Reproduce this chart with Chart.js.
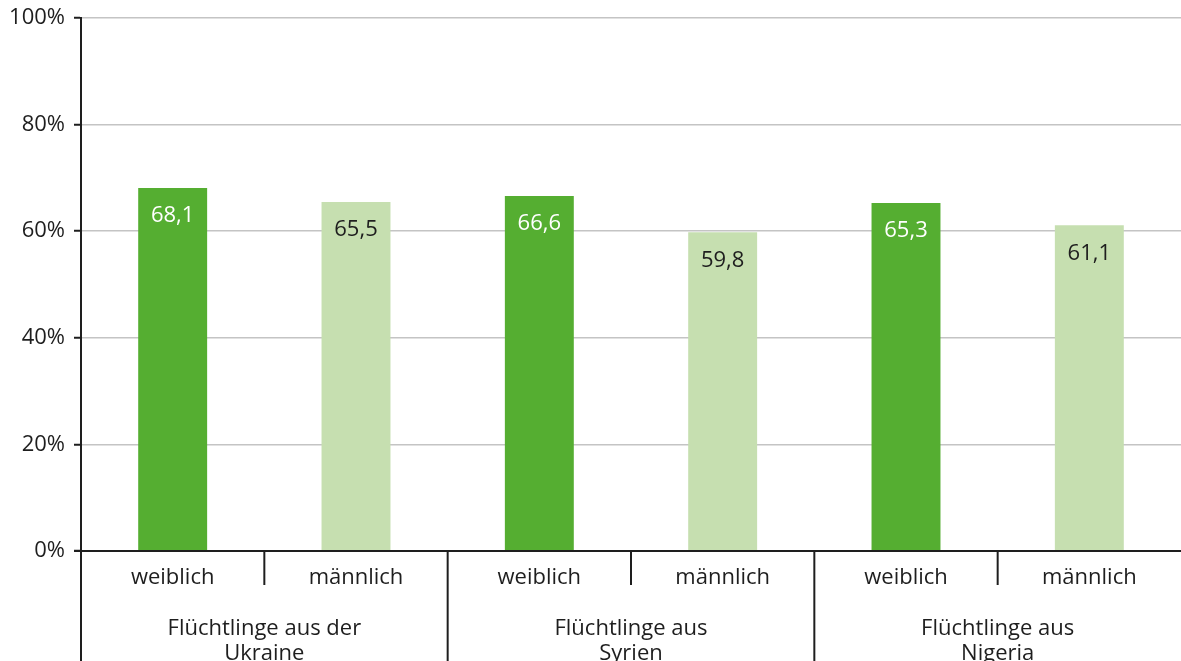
<!DOCTYPE html>
<html lang="de">
<head>
<meta charset="utf-8">
<title>Flüchtlinge nach Herkunft und Geschlecht</title>
<script src="https://cdn.jsdelivr.net/npm/chart.js@4/dist/chart.umd.min.js"></script>
<style>
  html, body { margin: 0; padding: 0; background: #fff; }
  #wrap { width: 1181px; height: 661px; position: relative; }
</style>
</head>
<body>
<div id="wrap"><canvas id="grafik"></canvas></div>
<script>
// Gruppen, Geschlechter und Werte (in %)
var gruppen = [
  ['Flüchtlinge aus der', 'Ukraine'],
  ['Flüchtlinge aus', 'Syrien'],
  ['Flüchtlinge aus', 'Nigeria']
];
var geschlechter = ['weiblich', 'männlich'];
var werteWeiblich = [68.1, 66.6, 65.3];
var werteMaennlich = [65.5, 59.8, 61.1];
var achsenTicks = [0, 20, 40, 60, 80, 100];

var farbeWeiblich = '#55ae31';
var farbeMaennlich = '#c6dfb0';
var schrift = '"Open Sans", "Noto Sans", sans-serif';
var textFarbe = '#1e1e1e';

// flache Liste der Balken: je Gruppe weiblich, männlich
var labels = [], werte = [], farben = [];
gruppen.forEach(function (g, i) {
  labels.push(geschlechter[0]); werte.push(werteWeiblich[i]); farben.push(farbeWeiblich);
  labels.push(geschlechter[1]); werte.push(werteMaennlich[i]); farben.push(farbeMaennlich);
});

function formatWert(v) {
  return v.toFixed(1).replace('.', ',');
}

// Werte in die Balken schreiben und die zweistufige Kategorieachse zeichnen
var beschriftung = {
  id: 'beschriftung',
  afterDatasetsDraw: function (chart) {
    var ctx = chart.ctx;
    var meta = chart.getDatasetMeta(0);
    ctx.save();
    ctx.font = '22px ' + schrift;
    ctx.textAlign = 'center';
    ctx.textBaseline = 'middle';
    meta.data.forEach(function (bar, i) {
      ctx.fillStyle = i % 2 === 0 ? '#ffffff' : textFarbe;
      ctx.fillText(formatWert(werte[i]), bar.x, bar.y + 28);
    });
    ctx.restore();
  },
  afterDraw: function (chart) {
    var ctx = chart.ctx;
    var x = chart.scales.x;
    var area = chart.chartArea;
    var unten = chart.height;
    ctx.save();
    ctx.strokeStyle = textFarbe;
    ctx.lineWidth = 2;

    // Nulllinie
    ctx.beginPath();
    ctx.moveTo(area.left - 7, area.bottom);
    ctx.lineTo(area.right, area.bottom);
    ctx.stroke();

    // y-Achse bis zum unteren Rand verlängern
    ctx.beginPath();
    ctx.moveTo(area.left, area.top);
    ctx.lineTo(area.left, unten);
    ctx.stroke();

    // Trennlinien zwischen den Balken
    for (var i = 0; i < labels.length - 1; i++) {
      var mitte = (x.getPixelForValue(i) + x.getPixelForValue(i + 1)) / 2;
      var lang = i % 2 === 1;
      ctx.beginPath();
      ctx.moveTo(mitte, area.bottom);
      ctx.lineTo(mitte, lang ? unten : area.bottom + 34);
      ctx.stroke();
    }

    ctx.fillStyle = textFarbe;
    ctx.font = '22px ' + schrift;
    ctx.textAlign = 'center';
    ctx.textBaseline = 'middle';
    labels.forEach(function (l, i) {
      ctx.fillText(l, x.getPixelForValue(i), area.bottom + 27);
    });
    gruppen.forEach(function (g, i) {
      var gx = (x.getPixelForValue(2 * i) + x.getPixelForValue(2 * i + 1)) / 2;
      ctx.fillText(g[0], gx, area.bottom + 78);
      ctx.fillText(g[1], gx, area.bottom + 103);
    });
    ctx.restore();
  }
};

var canvas = document.getElementById('grafik');
canvas.width = 1181;
canvas.height = 661;

new Chart(canvas.getContext('2d'), {
  type: 'bar',
  data: {
    labels: labels,
    datasets: [{
      data: werte,
      backgroundColor: farben,
      borderWidth: 0,
      categoryPercentage: 1,
      barPercentage: 0.376
    }]
  },
  options: {
    responsive: false,
    animation: false,
    layout: { padding: { top: 18, bottom: 110, left: 0, right: 0 } },
    plugins: {
      legend: { display: false },
      tooltip: { enabled: false }
    },
    scales: {
      x: {
        display: false
      },
      y: {
        min: 0,
        max: 100,
        afterFit: function (scale) {
          scale.width = 81;
          scale.paddingTop = 0;
          scale.paddingBottom = 0;
        },
        afterBuildTicks: function (scale) {
          scale.ticks = achsenTicks.map(function (v) { return { value: v }; });
        },
        border: { display: true, color: textFarbe, width: 2 },
        grid: {
          color: function (c) { return c.tick && c.tick.value === 0 ? 'rgba(0,0,0,0)' : '#c4c4c4'; },
          lineWidth: 1.5,
          tickLength: 7,
          tickColor: textFarbe,
          tickWidth: 2
        },
        ticks: {
          padding: 9,
          color: textFarbe,
          font: { family: schrift, size: 22 },
          callback: function (v) { return v + '%'; }
        }
      }
    }
  },
  plugins: [beschriftung]
});
</script>
</body>
</html>
